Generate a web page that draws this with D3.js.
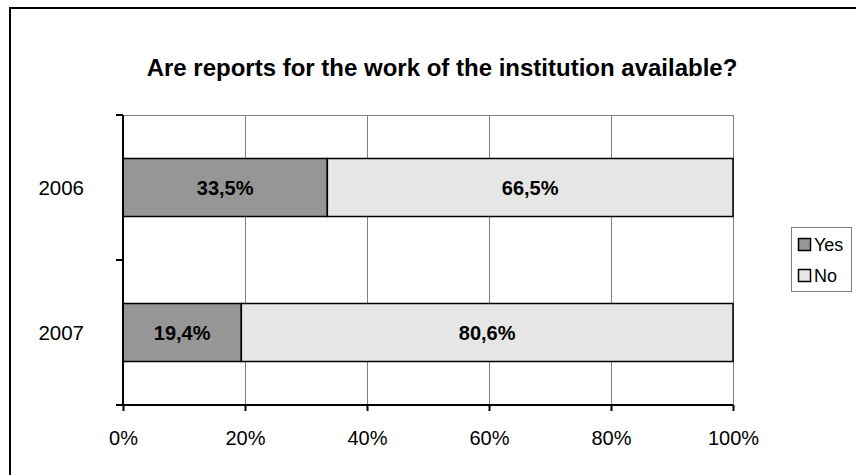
<!DOCTYPE html>
<html>
<head>
<meta charset="utf-8">
<script src="https://cdn.jsdelivr.net/npm/d3@7/dist/d3.min.js"></script>
<style>
  html, body { margin: 0; padding: 0; background: #fff; }
  svg { display: block; font-family: Arial, "Liberation Sans", sans-serif; }
</style>
</head>
<body>
<svg id="chart" width="856" height="475"></svg>
<script>
const title = "Are reports for the work of the institution available?";
const categories = ["2006", "2007"];
const seriesNames = ["Yes", "No"];
const yesValues = [33.5, 19.4];
const noValues = [66.5, 80.6];
const xTicks = [0, 20, 40, 60, 80, 100];
const colors = ["#969696", "#e6e6e6"];

const svg = d3.select("#chart");
const W = 856, H = 475;
const plot = { left: 123, right: 733, top: 115, bottom: 405 };

svg.append("rect").attr("width", W).attr("height", H).attr("fill", "#fff");
// outer chart border (right/bottom off-canvas)
svg.append("rect").attr("x", 10).attr("y", 8).attr("width", 900).attr("height", 500)
  .attr("fill", "none").attr("stroke", "#000").attr("stroke-width", 2);

const x = d3.scaleLinear().domain([0, 100]).range([plot.left, plot.right]);
const y = d3.scaleBand().domain(categories).range([plot.top, plot.bottom]).paddingInner(0.6).paddingOuter(0.3);
const yEdges = d3.scaleLinear().domain([0, categories.length]).range([plot.top, plot.bottom]);

// title
svg.append("text").attr("x", 442).attr("y", 76).attr("text-anchor", "middle")
  .attr("font-weight", "bold").attr("font-size", 24).attr("fill", "#000").text(title);

// gridlines
svg.append("g").selectAll("line").data(xTicks.filter(d => d > 0)).join("line")
  .attr("x1", d => x(d)).attr("x2", d => x(d)).attr("y1", plot.top).attr("y2", plot.bottom)
  .attr("stroke", "#808080").attr("stroke-width", 1).attr("shape-rendering", "crispEdges");
svg.append("line").attr("x1", plot.left).attr("x2", plot.right).attr("y1", plot.top).attr("y2", plot.top)
  .attr("stroke", "#808080").attr("stroke-width", 1).attr("shape-rendering", "crispEdges");

// stacked bars
const rows = categories.map((c, i) => ({ cat: c, vals: [yesValues[i], noValues[i]] }));
const barG = svg.append("g");
rows.forEach(r => {
  let acc = 0;
  r.vals.forEach((v, j) => {
    const x0 = x(acc), x1 = x(acc + v);
    barG.append("rect").attr("x", x0).attr("y", y(r.cat)).attr("width", x1 - x0).attr("height", y.bandwidth())
      .attr("fill", colors[j]).attr("stroke", "#000").attr("stroke-width", 1.5);
    barG.append("text").attr("x", (x0 + x1) / 2).attr("y", y(r.cat) + y.bandwidth() / 2 + 7.5)
      .attr("text-anchor", "middle").attr("font-weight", "bold").attr("font-size", 20).attr("fill", "#000")
      .text(v.toFixed(1).replace(".", ",") + "%");
    acc += v;
  });
});

// x axis
const xAxis = d3.axisBottom(x).tickValues(xTicks).tickFormat(d => d + "%").tickSize(6).tickPadding(20);
const xg = svg.append("g").attr("transform", `translate(0,${plot.bottom})`).call(xAxis);
xg.select(".domain").attr("stroke", "#000").attr("stroke-width", 2).attr("d", `M${plot.left},0H${plot.right}`);
xg.selectAll(".tick line").attr("stroke", "#000").attr("stroke-width", 2);
xg.selectAll(".tick text").attr("font-size", 20).attr("fill", "#000").attr("font-family", "Arial, 'Liberation Sans', sans-serif");

// y axis line + edge ticks
svg.append("line").attr("x1", plot.left).attr("x2", plot.left).attr("y1", plot.top).attr("y2", plot.bottom + 1)
  .attr("stroke", "#000").attr("stroke-width", 2);
svg.append("g").selectAll("line").data(d3.range(categories.length + 1)).join("line")
  .attr("x1", plot.left - 7).attr("x2", plot.left).attr("y1", d => yEdges(d)).attr("y2", d => yEdges(d))
  .attr("stroke", "#000").attr("stroke-width", 2);
svg.append("g").selectAll("text").data(categories).join("text")
  .attr("x", 84).attr("y", d => y(d) + y.bandwidth() / 2 + 7.5).attr("text-anchor", "end")
  .attr("font-size", 20.5).attr("fill", "#000").text(d => d);

// legend
const lg = svg.append("g");
lg.append("rect").attr("x", 791.5).attr("y", 227.5).attr("width", 60).attr("height", 64)
  .attr("fill", "#fff").attr("stroke", "#808080").attr("stroke-width", 1);
seriesNames.forEach((n, i) => {
  const cy = 244.5 + i * 31;
  lg.append("rect").attr("x", 798.5).attr("y", cy - 6).attr("width", 12).attr("height", 12)
    .attr("fill", colors[i]).attr("stroke", "#000").attr("stroke-width", 1.5);
  lg.append("text").attr("x", 814).attr("y", cy + 6.5).attr("font-size", 18).attr("fill", "#000").text(n);
});
</script>
</body>
</html>
